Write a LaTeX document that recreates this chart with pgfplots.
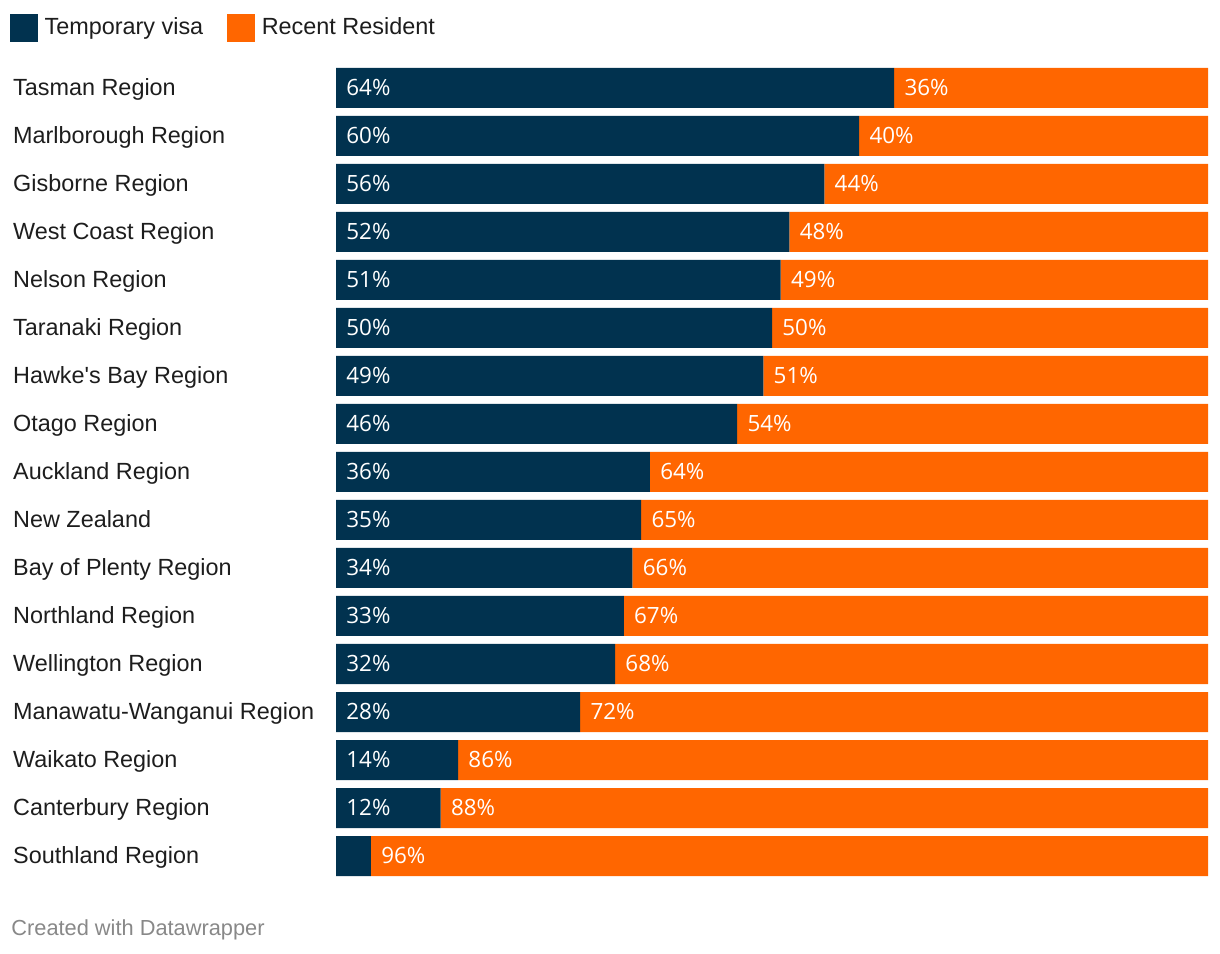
\documentclass[border=0pt]{standalone}
\usepackage{fontspec}
\setmainfont{Liberation Sans}
\newfontfamily\barfont{Open Sans}
\usepackage{pgfplots}
\pgfplotsset{compat=1.18}
\definecolor{navy}{HTML}{01324F}
\definecolor{orng}{HTML}{FF6600}
\definecolor{foot}{HTML}{888888}
\definecolor{txt}{HTML}{1D1D1D}

\pgfplotstableread{
y t r
0 64 36
1 60 40
2 56 44
3 52 48
4 51 49
5 50 50
6 49 51
7 46 54
8 36 64
9 35 65
10 34 66
11 33 67
12 32 68
13 28 72
14 14 86
15 12 88
16 4 96
}\datatab

\pgfplotstableread{
x y m
0 0 64
64 0 36
0 1 60
60 1 40
0 2 56
56 2 44
0 3 52
52 3 48
0 4 51
51 4 49
0 5 50
50 5 50
0 6 49
49 6 51
0 7 46
46 7 54
0 8 36
36 8 64
0 9 35
35 9 65
0 10 34
34 10 66
0 11 33
33 11 67
0 12 32
32 12 68
0 13 28
28 13 72
0 14 14
14 14 86
0 15 12
12 15 88
4 16 96
}\labtab

\begin{document}
\begin{tikzpicture}[x=1bp,y=1bp]
\useasboundingbox (0,0) rectangle (610,477);
\begin{axis}[
  at={(168bp,37bp)}, anchor=south west,
  scale only axis, width=436bp, height=408bp,
  xbar stacked, bar width=20bp,
  xmin=0, xmax=100, ymin=-0.5, ymax=16.5, y dir=reverse,
  axis line style={draw=none},
  xtick=\empty,
  ytick={0,...,16},
  major tick length=0pt,
  tick style={draw=none},
  yticklabels={Tasman Region,Marlborough Region,Gisborne Region,West Coast Region,Nelson Region,Taranaki Region,Hawke\textquotesingle s Bay Region,Otago Region,Auckland Region,New Zealand,Bay of Plenty Region,Northland Region,Wellington Region,Manawatu-Wanganui Region,Waikato Region,Canterbury Region,Southland Region},
  yticklabel style={anchor=base west, inner sep=0pt, xshift=-161.6bp, yshift=-3.85bp, text=txt, font=\fontsize{11.7bp}{14bp}\selectfont},
  legend columns=2,
  legend style={at={(axis description cs:-0.37385,1.06127)}, anchor=north west, draw=none, fill=none,
    inner sep=0pt, outer sep=0pt, nodes={inner sep=0pt, text=txt, text height=8.4bp, text depth=2.5bp},
    font=\fontsize{11.7bp}{14bp}\selectfont,
    /tikz/every odd column/.append style={column sep=3.3bp},
    /tikz/every even column/.append style={column sep=12bp}},
  legend image code/.code={\fill[#1] (0bp,-6.7bp) rectangle (14bp,7.3bp);},
]
\addplot[fill=navy, draw=none] table[x=t, y=y] {\datatab};
\addplot[fill=orng, draw=none] table[x=r, y=y] {\datatab};
\legend{Temporary visa, Recent Resident}
\end{axis}
\begin{axis}[
  at={(168bp,37bp)}, anchor=south west,
  scale only axis, width=436bp, height=408bp,
  xmin=0, xmax=100, ymin=-0.5, ymax=16.5, y dir=reverse,
  hide axis,
]
\addplot[draw=none, nodes near coords={\pgfplotspointmeta\%}, point meta=explicit symbolic,
  every node near coord/.style={anchor=base west, inner sep=0pt, xshift=5bp, yshift=-3.85bp, text=white, font=\barfont\fontsize{11.2bp}{13bp}\selectfont}]
  table[x=x, y=y, meta=m] {\labtab};
\end{axis}
\node[anchor=base west, inner sep=0pt, text=foot, font=\fontsize{10.9bp}{13bp}\selectfont] at (5.5bp,9.15bp) {Created with Datawrapper};
\end{tikzpicture}
\end{document}
